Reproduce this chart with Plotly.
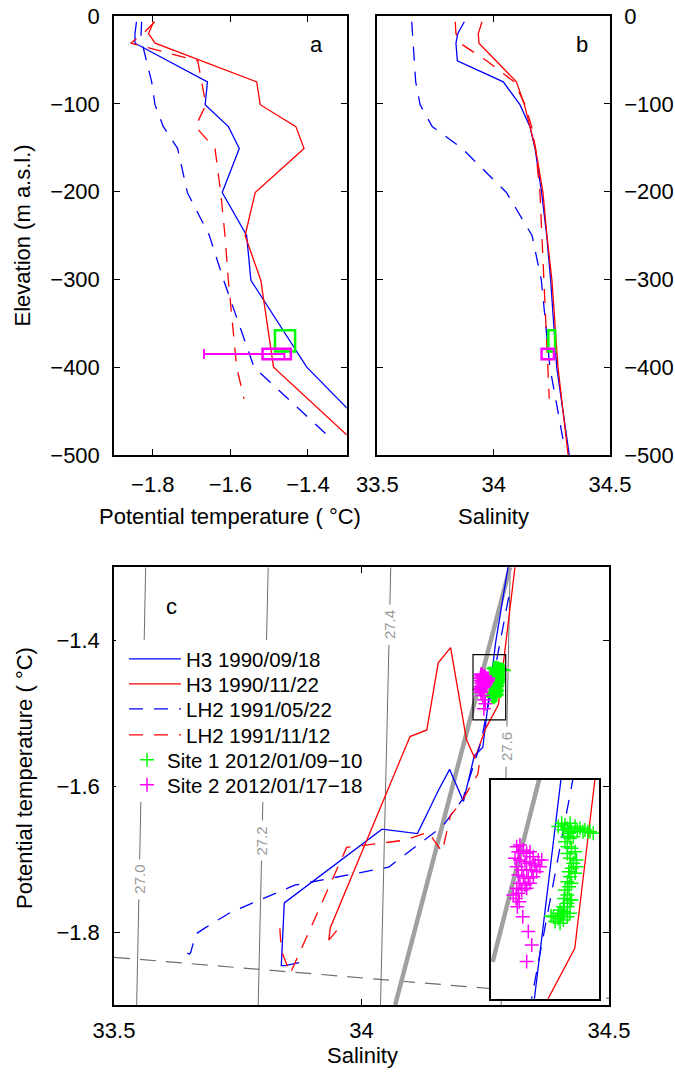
import plotly.graph_objects as go

W, H = 675, 1072

# ---------------- data ----------------
# H3 1990/09/18 (blue solid)
h3a_elev = [-6.5, -20, -31, -51, -75, -101, -126, -151, -201, -250, -301, -400, -500]
h3a_theta = [-1.842, -1.846, -1.846, -1.760, -1.659, -1.665, -1.605, -1.577, -1.621, -1.558, -1.547, -1.403, -1.180]
h3a_sal = [33.874, 33.846, 33.838, 33.844, 34.0415, 34.113, 34.156, 34.178, 34.206, 34.228, 34.245, 34.271, 34.325]

# H3 1990/11/22 (red solid)
h3b_elev = [-6.5, -20, -31, -75, -101, -126, -151, -201, -250, -301, -400, -500]
h3b_theta = [-1.798, -1.811, -1.794, -1.532, -1.523, -1.431, -1.410, -1.536, -1.562, -1.5215, -1.4886, -1.244]
h3b_sal = [33.950, 33.934, 33.937, 34.098, 34.132, 34.155, 34.180, 34.212, 34.229, 34.2505, 34.2765, 34.320]

# LH2 1991/05/22 (blue dashed)
lh2a_elev = [-6.5, -23.5, -30.4, -75, -101, -126, -151, -201, -250, -301, -400, -482]
lh2a_theta = [-1.8287, -1.8304, -1.8278, -1.8029, -1.7943, -1.7728, -1.7358, -1.7109, -1.6542, -1.6172, -1.539, -1.3387]
lh2a_sal = [33.648, 33.652, 33.655, 33.665, 33.684, 33.736, 33.865, 34.055, 34.165, 34.205, 34.2417, 34.298]

# LH2 1991/11/12 (red dashed)
lh2b_elev = [-6.5, -20, -31, -51, -75, -101, -126, -151, -201, -250, -301, -400, -436]
lh2b_theta = [-1.795, -1.825, -1.857, -1.684, -1.674, -1.663, -1.690, -1.6395, -1.6249, -1.6138, -1.6052, -1.5837, -1.5648]
lh2b_sal = [33.835, 33.838, 33.856, 33.970, 34.088, 34.135, 34.163, 34.180, 34.199, 34.208, 34.216, 34.235, 34.239]

# Site 1 2012/01/09-10 (green +)
site1_sal = [34.2664, 34.2685, 34.2705, 34.2720, 34.2736, 34.2745, 34.2767, 34.2780, 34.2797, 34.2815, 34.2827, 34.2845,
             34.2858, 34.2878, 34.2728, 34.2695, 34.2720, 34.2736, 34.2756, 34.2705, 34.2720, 34.2745, 34.2767,
             34.2720, 34.2736, 34.2775, 34.2756, 34.2775, 34.2745, 34.2728, 34.2767, 34.2736, 34.2720, 34.2745,
             34.2730, 34.2705, 34.2720, 34.2736, 34.2700, 34.2720, 34.2745, 34.2695, 34.2675, 34.2700, 34.2664,
             34.2685, 34.2634, 34.2664, 34.2620, 34.2645, 34.2675, 34.2695, 34.2720, 34.2736, 34.2720]
site1_theta = [-1.4387, -1.4373, -1.4380, -1.4394, -1.4373, -1.4408, -1.4387, -1.4401, -1.4394, -1.4408, -1.4401, -1.4408,
               -1.4408, -1.4414, -1.4414, -1.4401, -1.4428, -1.4435, -1.4428, -1.4449, -1.4469, -1.4476, -1.4490,
               -1.4497, -1.4517, -1.4524, -1.4537, -1.4551, -1.4558, -1.4572, -1.4578, -1.4592, -1.4613, -1.4619,
               -1.4633, -1.4647, -1.4667, -1.4688, -1.4681, -1.4701, -1.4688, -1.4715, -1.4729, -1.4736, -1.4742,
               -1.4749, -1.4756, -1.4763, -1.4753, -1.4776, -1.4783, -1.4770, -1.4756, -1.4742, -1.4715]

# Site 2 2012/01/17-18 (magenta +)
site2_sal = [34.2410, 34.2430, 34.2420, 34.2451, 34.2471, 34.2491, 34.2511, 34.2542, 34.2563, 34.2400, 34.2430,
             34.2461, 34.2491, 34.2522, 34.2552, 34.2410, 34.2441, 34.2471, 34.2502, 34.2532, 34.2420, 34.2451,
             34.2481, 34.2511, 34.2430, 34.2461, 34.2491, 34.2410, 34.2441, 34.2471, 34.2389, 34.2420, 34.2406,
             34.2426, 34.2414, 34.2447, 34.2481, 34.2502, 34.2471]
site2_theta = [-1.4469, -1.4462, -1.4490, -1.4483, -1.4496, -1.4490, -1.4510, -1.4524, -1.4524, -1.4517, -1.4524,
               -1.4531, -1.4537, -1.4544, -1.4551, -1.4551, -1.4565, -1.4565, -1.4565, -1.4572, -1.4585, -1.4592,
               -1.4599, -1.4592, -1.4619, -1.4626, -1.4619, -1.4640, -1.4647, -1.4640, -1.4667, -1.4660, -1.4681,
               -1.4695, -1.4715, -1.4756, -1.4817, -1.4872, -1.4940]

# observed ranges at the sites (panels a, b)
site1_theta_rng = [-1.485, -1.433]
site1_sal_rng = [34.235, 34.264]
site1_elev_rng = [-382, -358]
site2_theta_rng = [-1.517, -1.444]
site2_sal_rng = [34.206, 34.259]
site2_elev_rng = [-391, -379]
site2_theta_err = [-1.668, -1.4607]
site2_err_elev = -385

# reference lines in panel c
gade_sal = [34.068, 34.300]
gade_theta = [-1.9, -1.3]
gade_inset_sal = [34.2263, 34.2583]
gade_inset_theta = [-1.4941, -1.41]
frz_sal = [33.5, 34.5]
frz_theta = [-1.8346, -1.891]
iso_labels = ["27.0", "27.2", "27.4", "27.6"]
iso_sal_top = [33.564, 33.8115, 34.0591, 34.3004]   # at theta = -1.3
iso_sal_bot = [33.5458, 33.7913, 34.0384, 34.2822]  # at theta = -1.9
iso_label_theta = [-1.7278, -1.6746, -1.3787, -1.5457]

# axis ranges
a_xrange = [-1.9, -1.3]
b_xrange = [33.5, 34.5]
elev_range = [-500, 0]
c_xrange = [33.5, 34.5]
c_yrange = [-1.9, -1.3]
inset_xrange = [34.2253, 34.2913]
inset_yrange = [-1.5092, -1.4196]

elev_ticks = [0, -100, -200, -300, -400, -500]
a_xticks = [-1.8, -1.6, -1.4]
sal_ticks = [33.5, 34, 34.5]
sal_ticktext = ["33.5", "34", "34.5"]
c_yticks = [-1.4, -1.6, -1.8]

BLUE = "#0000ff"
RED = "#ff0000"
GREEN = "#00ff00"
MAG = "#ff00ff"
FONT = "Liberation Sans, Arial, Helvetica, sans-serif"
DASH = "14px,11px"
LW = 1.3

fig = go.Figure()

profiles = [
    ("H3 1990/09/18", h3a_elev, h3a_theta, h3a_sal, BLUE, "solid"),
    ("H3 1990/11/22", h3b_elev, h3b_theta, h3b_sal, RED, "solid"),
    ("LH2 1991/05/22", lh2a_elev, lh2a_theta, lh2a_sal, BLUE, DASH),
    ("LH2 1991/11/12", lh2b_elev, lh2b_theta, lh2b_sal, RED, DASH),
]

# ---- panel a & b profiles
for name, el, th, sa, col, dash in profiles:
    fig.add_trace(go.Scatter(x=th, y=el, mode="lines", line=dict(color=col, width=LW, dash=dash),
                             showlegend=False, xaxis="x", yaxis="y"))
    fig.add_trace(go.Scatter(x=sa, y=el, mode="lines", line=dict(color=col, width=LW, dash=dash),
                             showlegend=False, xaxis="x2", yaxis="y2"))

# error bar (site 2, panel a)
fig.add_trace(go.Scatter(x=[(site2_theta_err[0] + site2_theta_err[1]) / 2], y=[site2_err_elev],
                         mode="markers", marker=dict(size=1, color="rgba(0,0,0,0)"),
                         error_x=dict(type="data", array=[(site2_theta_err[1] - site2_theta_err[0]) / 2],
                                      color=MAG, thickness=2, width=5),
                         showlegend=False, xaxis="x", yaxis="y"))

def px_x(p):
    return p / W

def px_y(p):
    return 1 - p / H

shapes = []
def box(xr, yr, col, xref, yref, w):
    shapes.append(dict(type="rect", xref=xref, yref=yref, x0=xr[0], x1=xr[1], y0=yr[0], y1=yr[1],
                       line=dict(color=col, width=w), fillcolor="rgba(0,0,0,0)", layer="above"))

box(site1_theta_rng, site1_elev_rng, GREEN, "x", "y", 2.5)
box(site2_theta_rng, site2_elev_rng, MAG, "x", "y", 2.5)
box(site1_sal_rng, site1_elev_rng, GREEN, "x2", "y2", 2.5)
box(site2_sal_rng, site2_elev_rng, MAG, "x2", "y2", 2.5)
box(inset_xrange, inset_yrange, "black", "x3", "y3", 1.2)
# white backdrop behind the legend entries (hides the isopycnals there)
shapes.append(dict(type="rect", xref="paper", yref="paper", x0=px_x(116), x1=px_x(362),
                   y0=px_y(802), y1=px_y(640), line=dict(width=0), fillcolor="white", layer="above"))

# ---- panel c background lines
iso_x, iso_y = [], []
annotations = []
gap = 0.0275
for lab, st, sb, tl in zip(iso_labels, iso_sal_top, iso_sal_bot, iso_label_theta):
    def s_at(t):
        return sb + (st - sb) * (t - c_yrange[0]) / (c_yrange[1] - c_yrange[0])
    iso_x += [s_at(c_yrange[1]), s_at(tl + gap), None, s_at(tl - gap), s_at(c_yrange[0]), None]
    iso_y += [c_yrange[1], tl + gap, None, tl - gap, c_yrange[0], None]
    annotations.append(dict(x=s_at(tl), y=tl, xref="x3", yref="y3", text=lab, showarrow=False,
                            textangle=-90, font=dict(family=FONT, size=15, color="#9a9a9a"),
                            xanchor="center", yanchor="middle"))
fig.add_trace(go.Scatter(x=iso_x, y=iso_y, mode="lines", line=dict(color="#6e6e6e", width=1),
                         showlegend=False, xaxis="x3", yaxis="y3"))
fig.add_trace(go.Scatter(x=frz_sal, y=frz_theta, mode="lines",
                         line=dict(color="#6e6e6e", width=1.2, dash="16px,10px"),
                         showlegend=False, xaxis="x3", yaxis="y3"))
fig.add_trace(go.Scatter(x=gade_sal, y=gade_theta, mode="lines", line=dict(color="#a0a0a0", width=4.5),
                         showlegend=False, xaxis="x3", yaxis="y3"))
fig.add_trace(go.Scatter(x=gade_inset_sal, y=gade_inset_theta, mode="lines", line=dict(color="#a0a0a0", width=4.5),
                         showlegend=False, xaxis="x4", yaxis="y4"))

# ---- panel c profiles + inset
for i, (name, el, th, sa, col, dash) in enumerate(profiles):
    fig.add_trace(go.Scatter(x=sa, y=th, mode="lines", name=name, line=dict(color=col, width=LW, dash=dash),
                             legend="legend" if i == 0 else "legend%d" % (i + 1),
                             xaxis="x3", yaxis="y3"))
    fig.add_trace(go.Scatter(x=sa, y=th, mode="lines", line=dict(color=col, width=LW, dash=dash),
                             showlegend=False, xaxis="x4", yaxis="y4"))

sites = [("Site 1 2012/01/09\u221210", site1_sal, site1_theta, GREEN),
         ("Site 2 2012/01/17\u221218", site2_sal, site2_theta, MAG)]
for j, (name, sa, th, col) in enumerate(sites):
    mk = dict(symbol="cross-thin", size=10, color=col, line=dict(color=col, width=1.5))
    fig.add_trace(go.Scatter(x=sa, y=th, mode="markers", name=name, marker=mk,
                             legend="legend%d" % (5 + j), xaxis="x3", yaxis="y3"))
    fig.add_trace(go.Scatter(x=sa, y=th, mode="markers", marker=mk, showlegend=False,
                             xaxis="x4", yaxis="y4"))

# ---------------- layout ----------------
tickfont = dict(family=FONT, size=22, color="black")
common = dict(showline=True, linecolor="black", linewidth=1.5, mirror="ticks", ticks="inside",
              ticklen=6, tickwidth=1.2, tickcolor="black", showgrid=False, zeroline=False,
              tickfont=tickfont, automargin=False)

layout = dict(
    width=W, height=H, margin=dict(l=0, r=0, t=0, b=0, pad=0, autoexpand=False), autosize=False,
    paper_bgcolor="white", plot_bgcolor="white",
    font=dict(family=FONT, size=22, color="black"),
    xaxis=dict(domain=[px_x(114), px_x(346.7)], range=a_xrange, tickvals=a_xticks, anchor="y",
               ticklabelstandoff=9, **common),
    yaxis=dict(domain=[px_y(455), px_y(16)], range=elev_range, tickvals=elev_ticks, anchor="x",
               ticklabelstandoff=8, **common),
    xaxis2=dict(domain=[px_x(377.3), px_x(610)], range=b_xrange, tickvals=sal_ticks, ticktext=sal_ticktext,
                anchor="y2", ticklabelstandoff=9, **common),
    yaxis2=dict(domain=[px_y(455), px_y(16)], range=elev_range, tickvals=elev_ticks, anchor="x2",
                side="right", ticklabelstandoff=8, **common),
    xaxis3=dict(domain=[px_x(114), px_x(609)], range=c_xrange, tickvals=sal_ticks, ticktext=sal_ticktext,
                anchor="y3", ticklabelstandoff=5, **common),
    yaxis3=dict(domain=[px_y(1005), px_y(567.3)], range=c_yrange, tickvals=c_yticks, anchor="x3",
                ticklabelstandoff=8, **common),
    xaxis4=dict(domain=[px_x(491), px_x(599)], range=inset_xrange, anchor="y4", showline=True, mirror=True,
                linecolor="black", linewidth=1.8, ticks="", showticklabels=False, showgrid=False, zeroline=False),
    yaxis4=dict(domain=[px_y(998.7), px_y(780)], range=inset_yrange, anchor="x4", showline=True, mirror=True,
                linecolor="black", linewidth=1.8, ticks="", showticklabels=False, showgrid=False, zeroline=False),
    shapes=shapes,
    showlegend=True,
)

# legends: one per row so the row spacing matches
row_y = [659, 684, 709, 735, 760, 785]
for k in range(6):
    key = "legend" if k == 0 else "legend%d" % (k + 1)
    is_line = k < 4
    layout[key] = dict(x=px_x(124 if is_line else 127), y=px_y(row_y[k] - 20), xanchor="left", yanchor="top",
                       bgcolor="rgba(0,0,0,0)", borderwidth=0, font=dict(family=FONT, size=20.5, color="black"),
                       itemwidth=52 if is_line else 30)

def txt(x, y, s, angle=0, size=22):
    return dict(x=px_x(x), y=px_y(y), xref="paper", yref="paper", text=s, showarrow=False,
                textangle=angle, xanchor="center", yanchor="middle", font=dict(family=FONT, size=size))

annotations += [
    txt(316.7, 45, "a"),
    txt(581.7, 45, "b"),
    txt(171.7, 606.7, "c"),
    txt(22, 235.5, "Elevation (m a.s.l.)", -90),
    txt(230, 516, "Potential temperature ( \u00b0C)"),
    txt(493.5, 516, "Salinity"),
    txt(24, 778, "Potential temperature ( \u00b0C)", -90),
    txt(362, 1055, "Salinity"),
]
layout["annotations"] = annotations

fig.update_layout(**layout)

page_fix = ("document.body.style.margin='0';document.body.style.padding='0';"
            "document.body.style.overflow='hidden';"
            "var g=document.getElementById('{plot_id}');g.style.position='absolute';"
            "g.style.left='0px';g.style.top='0px';")
fig.write_html("out.html", post_script=page_fix, config={"displayModeBar": False})
